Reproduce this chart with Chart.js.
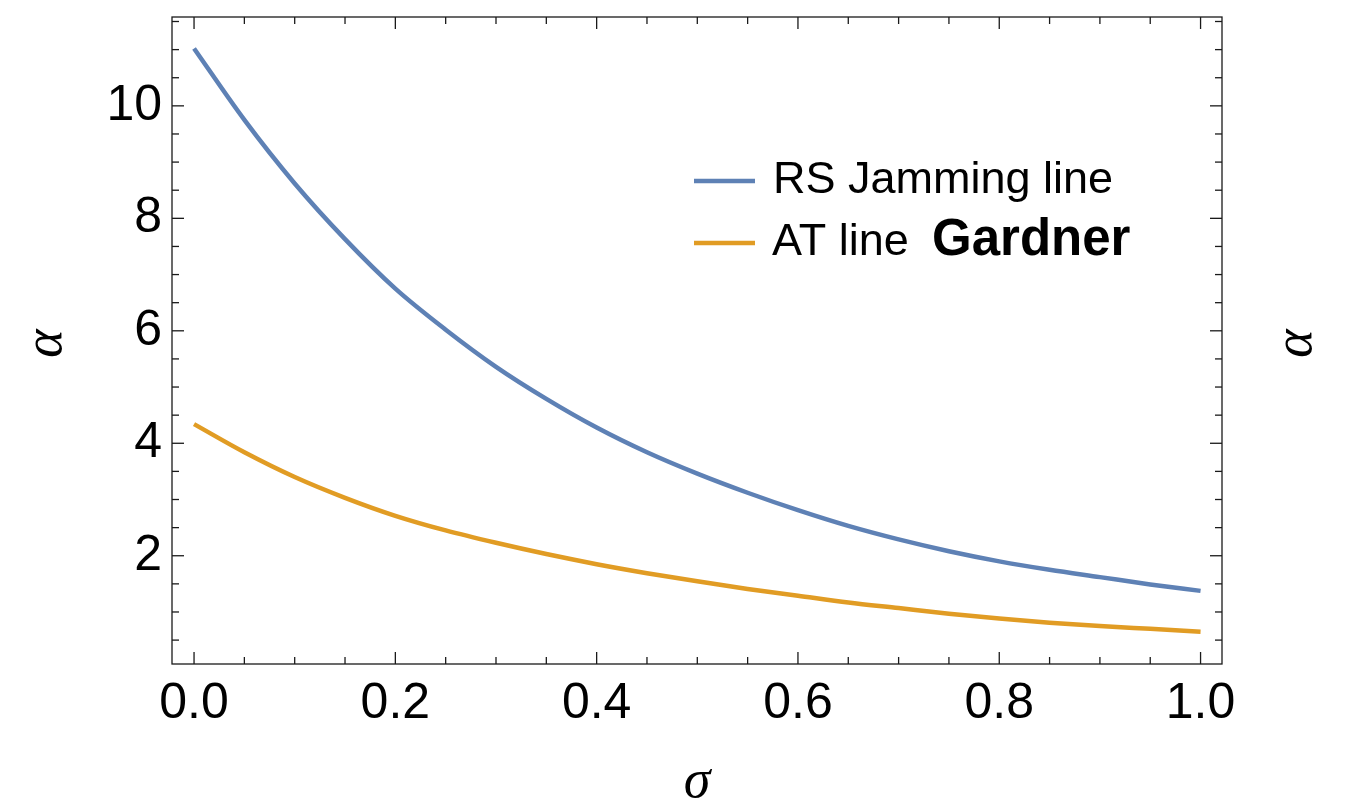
<!DOCTYPE html>
<html>
<head>
<meta charset="utf-8">
<script src="https://cdn.jsdelivr.net/npm/chart.js@4.4.0/dist/chart.umd.min.js"></script>
<style>
  html, body { margin: 0; padding: 0; background: #fff; }
  #wrap { width: 1347px; height: 802px; }
</style>
</head>
<body>
<div id="wrap"><canvas id="chart"></canvas></div>
<script>
// valores
const sigma = [0, 0.05, 0.1, 0.15, 0.2, 0.25, 0.3, 0.35, 0.4, 0.45, 0.5,
               0.55, 0.6, 0.65, 0.7, 0.75, 0.8, 0.85, 0.9, 0.95, 1.0];
const rsJamming = [11.02, 9.75, 8.62, 7.63, 6.75, 6.02, 5.36, 4.79, 4.28, 3.84, 3.46,
                   3.12, 2.81, 2.53, 2.29, 2.08, 1.90, 1.75, 1.62, 1.49, 1.375];
const atLine = [4.34, 3.84, 3.40, 3.03, 2.71, 2.45, 2.23, 2.03, 1.85, 1.69, 1.545,
                1.41, 1.29, 1.17, 1.07, 0.97, 0.885, 0.81, 0.75, 0.70, 0.65];
const xTicks = [0, 0.2, 0.4, 0.6, 0.8, 1.0];
const yTicks = [2, 4, 6, 8, 10];

const azul = '#5E81B5';
const naranja = '#E19C24';
const fuenteTicks = { family: '"Liberation Sans", Arial, sans-serif', size: 50 };
const fuenteTitulo = { family: '"Liberation Serif", "Times New Roman", serif', style: 'italic', size: 54, lineHeight: 0.7 };

// marco con ticks hacia adentro en los cuatro lados
const marco = {
  id: 'marco',
  afterDraw(chart) {
    const { ctx, chartArea: a, scales: { x, y } } = chart;
    ctx.save();
    ctx.strokeStyle = '#1a1a1a';
    ctx.lineWidth = 1.3;
    ctx.strokeRect(a.left, a.top, a.right - a.left, a.bottom - a.top);
    const linea = (x1, y1, x2, y2) => {
      ctx.beginPath(); ctx.moveTo(x1, y1); ctx.lineTo(x2, y2); ctx.stroke();
    };
    for (let i = 0; i <= 20; i++) {
      const px = x.getPixelForValue(i * 0.05);
      const len = i % 4 === 0 ? 12 : 7;
      linea(px, a.bottom, px, a.bottom - len);
      linea(px, a.top, px, a.top + len);
    }
    for (let i = 1; i * 0.5 < y.max; i++) {
      const py = y.getPixelForValue(i * 0.5);
      const len = i % 4 === 0 ? 12 : 7;
      linea(a.left, py, a.left + len, py);
      linea(a.right, py, a.right - len, py);
    }
    ctx.restore();
  }
};

// leyenda dentro del area y las dos alfas giradas
const leyenda = {
  id: 'leyenda',
  afterDraw(chart) {
    const ctx = chart.ctx;
    const ds = chart.data.datasets;
    ctx.save();
    ctx.lineWidth = 4.5;
    ctx.strokeStyle = ds[0].borderColor;
    ctx.beginPath(); ctx.moveTo(694, 181); ctx.lineTo(755, 181); ctx.stroke();
    ctx.strokeStyle = ds[1].borderColor;
    ctx.beginPath(); ctx.moveTo(694, 243); ctx.lineTo(755, 243); ctx.stroke();

    ctx.fillStyle = '#000';
    ctx.textBaseline = 'alphabetic';
    ctx.textAlign = 'left';
    ctx.font = '45px "Liberation Sans", Arial, sans-serif';
    ctx.fillText(ds[0].label, 773, 193);
    ctx.fillText(ds[1].label, 772, 255);
    ctx.font = 'bold 51px "Liberation Sans", Arial, sans-serif';
    ctx.fillText('Gardner', 932, 255);

    const a = chart.chartArea;
    const yc = (a.top + a.bottom) / 2 + 3;
    ctx.font = 'italic 54px "Liberation Serif", "Times New Roman", serif';
    ctx.textAlign = 'center';
    ctx.textBaseline = 'middle';
    for (const xc of [46.5, 1296.5]) {
      ctx.save();
      ctx.translate(xc, yc);
      ctx.rotate(-Math.PI / 2);
      ctx.fillText('α', 0, 0);
      ctx.restore();
    }
    ctx.restore();
  }
};

const ctx = document.getElementById('chart').getContext('2d');
new Chart(ctx, {
  type: 'line',
  data: {
    datasets: [{
      label: 'RS Jamming line',
      data: sigma.map((s, i) => ({ x: s, y: rsJamming[i] })),
      borderColor: azul,
      borderWidth: 4.5,
      pointRadius: 0,
      cubicInterpolationMode: 'monotone'
    }, {
      label: 'AT line',
      data: sigma.map((s, i) => ({ x: s, y: atLine[i] })),
      borderColor: naranja,
      borderWidth: 4.5,
      pointRadius: 0,
      cubicInterpolationMode: 'monotone'
    }]
  },
  options: {
    responsive: true,
    maintainAspectRatio: false,
    animation: false,
    layout: { padding: { top: 17, right: 125, left: 0, bottom: 0 } },
    plugins: { legend: { display: false }, tooltip: { enabled: false } },
    scales: {
      x: {
        type: 'linear',
        min: -0.0219,
        max: 1.0213,
        afterBuildTicks: s => { s.ticks = xTicks.map(v => ({ value: v })); },
        afterFit: s => { s.height = 138; s.paddingLeft = 0; s.paddingRight = 0; },
        grid: { display: false, drawTicks: false },
        border: { display: false },
        ticks: { font: fuenteTicks, color: '#000', padding: 10, maxRotation: 0,
                 callback: v => Number(v).toFixed(1) },
        title: { display: true, text: 'σ', font: fuenteTitulo, color: '#000', padding: { top: 0, bottom: 0 } }
      },
      y: {
        min: 0.075,
        max: 11.58,
        afterBuildTicks: s => { s.ticks = yTicks.map(v => ({ value: v })); },
        afterFit: s => { s.width = 172; s.paddingTop = 0; s.paddingBottom = 0; },
        grid: { display: false, drawTicks: false },
        border: { display: false },
        ticks: { font: fuenteTicks, color: '#000', padding: 10 }
      }
    }
  },
  plugins: [marco, leyenda]
});
</script>
</body>
</html>
